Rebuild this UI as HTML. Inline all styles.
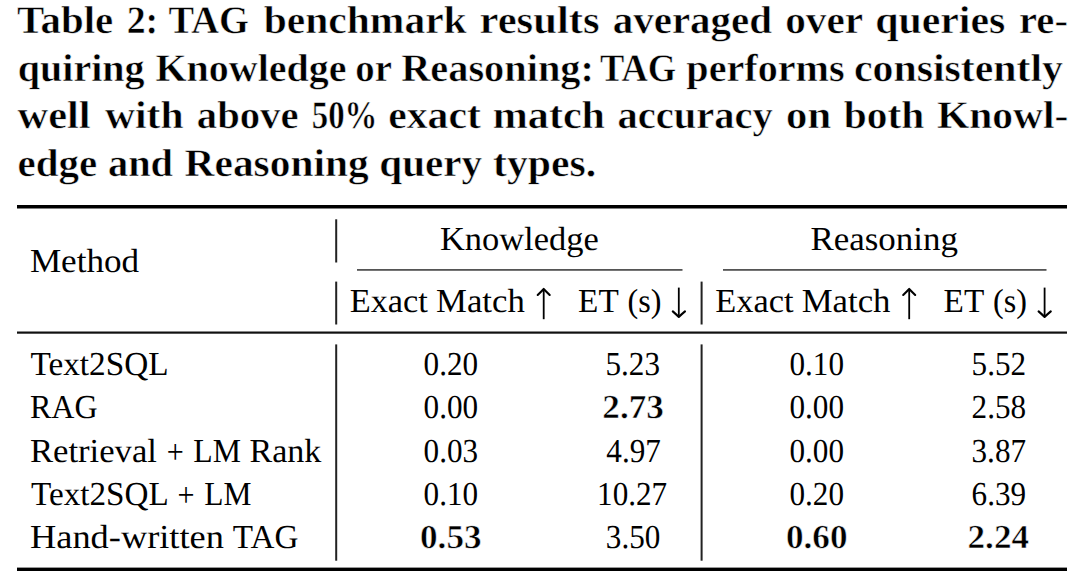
<!DOCTYPE html>
<html><head><meta charset="utf-8"><title>Table 2</title>
<style>html,body{margin:0;padding:0;background:#fff;width:1080px;height:582px;overflow:hidden}svg{display:block}text{font-family:"Liberation Serif", serif;fill:#000;text-rendering:geometricPrecision}</style>
</head><body>
<svg width="1080" height="582" viewBox="0 0 1080 582">
<rect width="1080" height="582" fill="#fff"/>
<text transform="translate(17 33.3) scale(1.0485 1)" font-size="39" font-weight="700" stroke="#fff" stroke-width="0.5">Table</text>
<text transform="translate(126.63 33.3) scale(0.9698 1)" font-size="39" font-weight="700" stroke="#fff" stroke-width="0.5">2:</text>
<text transform="translate(168.6 33.3) scale(0.9838 1)" font-size="39" font-weight="700" stroke="#fff" stroke-width="0.5">TAG</text>
<text transform="translate(263.75 33.3) scale(1.0640 1)" font-size="39" font-weight="700" stroke="#fff" stroke-width="0.5">benchmark</text>
<text transform="translate(479.51 33.3) scale(1.0934 1)" font-size="39" font-weight="700" stroke="#fff" stroke-width="0.5">results</text>
<text transform="translate(612.73 33.3) scale(1.0511 1)" font-size="39" font-weight="700" stroke="#fff" stroke-width="0.5">averaged</text>
<text transform="translate(785.2 33.3) scale(1.0582 1)" font-size="39" font-weight="700" stroke="#fff" stroke-width="0.5">over</text>
<text transform="translate(875.18 33.3) scale(1.0728 1)" font-size="39" font-weight="700" stroke="#fff" stroke-width="0.5">queries</text>
<text transform="translate(1019.05 33.3) scale(1.0419 1)" font-size="39" font-weight="700" stroke="#fff" stroke-width="0.5">re-</text>
<text transform="translate(17.73 80.8) scale(1.0264 1)" font-size="39" font-weight="700" stroke="#fff" stroke-width="0.5">quiring</text>
<text transform="translate(155.5 80.8) scale(1.0255 1)" font-size="39" font-weight="700" stroke="#fff" stroke-width="0.5">Knowledge</text>
<text transform="translate(355.26 80.8) scale(0.9956 1)" font-size="39" font-weight="700" stroke="#fff" stroke-width="0.5">or</text>
<text transform="translate(401.25 80.8) scale(1.0338 1)" font-size="39" font-weight="700" stroke="#fff" stroke-width="0.5">Reasoning:</text>
<text transform="translate(600 80.8) scale(0.9332 1)" font-size="39" font-weight="700" stroke="#fff" stroke-width="0.5">TAG</text>
<text transform="translate(686.3 80.8) scale(1.0297 1)" font-size="39" font-weight="700" stroke="#fff" stroke-width="0.5">performs</text>
<text transform="translate(853.94 80.8) scale(1.0719 1)" font-size="39" font-weight="700" stroke="#fff" stroke-width="0.5">consistently</text>
<text transform="translate(17.57 128.2) scale(1.0883 1)" font-size="39" font-weight="700" stroke="#fff" stroke-width="0.5">well</text>
<text transform="translate(105.07 128.2) scale(1.0653 1)" font-size="39" font-weight="700" stroke="#fff" stroke-width="0.5">with</text>
<text transform="translate(196.79 128.2) scale(1.0432 1)" font-size="39" font-weight="700" stroke="#fff" stroke-width="0.5">above</text>
<text transform="translate(311.76 128.2) scale(0.8405 1)" font-size="39" font-weight="700" stroke="#fff" stroke-width="0.5">50%</text>
<text transform="translate(388.24 128.2) scale(1.0685 1)" font-size="39" font-weight="700" stroke="#fff" stroke-width="0.5">exact</text>
<text transform="translate(492.82 128.2) scale(1.0787 1)" font-size="39" font-weight="700" stroke="#fff" stroke-width="0.5">match</text>
<text transform="translate(617.59 128.2) scale(1.0380 1)" font-size="39" font-weight="700" stroke="#fff" stroke-width="0.5">accuracy</text>
<text transform="translate(786.11 128.2) scale(1.0941 1)" font-size="39" font-weight="700" stroke="#fff" stroke-width="0.5">on</text>
<text transform="translate(843.7 128.2) scale(1.0618 1)" font-size="39" font-weight="700" stroke="#fff" stroke-width="0.5">both</text>
<text transform="translate(937 128.2) scale(1.0637 1)" font-size="39" font-weight="700" stroke="#fff" stroke-width="0.5">Knowl-</text>
<text transform="translate(17.46 175.7) scale(1.0501 1)" font-size="39" font-weight="700" stroke="#fff" stroke-width="0.5">edge</text>
<text transform="translate(108 175.7) scale(1.0348 1)" font-size="39" font-weight="700" stroke="#fff" stroke-width="0.5">and</text>
<text transform="translate(184.6 175.7) scale(1.0618 1)" font-size="39" font-weight="700" stroke="#fff" stroke-width="0.5">Reasoning</text>
<text transform="translate(379.35 175.7) scale(1.0546 1)" font-size="39" font-weight="700" stroke="#fff" stroke-width="0.5">query</text>
<text transform="translate(493 175.7) scale(1.0708 1)" font-size="39" font-weight="700" stroke="#fff" stroke-width="0.5">types.</text>
<text transform="translate(29.88 271.5) scale(1.0483 1)" font-size="33.5" font-weight="400">Method</text>
<text transform="translate(439.89 249.7) scale(1.0286 1)" font-size="33.5" font-weight="400">Knowledge</text>
<text transform="translate(810.38 249.7) scale(1.0427 1)" font-size="33.5" font-weight="400">Reasoning</text>
<text transform="translate(349.69 312.2) scale(1.0258 1)" font-size="33.5" font-weight="400">Exact</text>
<text transform="translate(436.09 312.2) scale(1.0357 1)" font-size="33.5" font-weight="400">Match</text>
<text transform="translate(578.12 312) scale(0.9919 1)" font-size="33.5" font-weight="400">ET</text>
<text transform="translate(627.55 312) scale(0.9593 1)" font-size="33.5" font-weight="400">(s)</text>
<text transform="translate(715.29 312.2) scale(1.0258 1)" font-size="33.5" font-weight="400">Exact</text>
<text transform="translate(801.69 312.2) scale(1.0368 1)" font-size="33.5" font-weight="400">Match</text>
<text transform="translate(943.62 312) scale(0.9919 1)" font-size="33.5" font-weight="400">ET</text>
<text transform="translate(993.05 312) scale(0.9593 1)" font-size="33.5" font-weight="400">(s)</text>
<text transform="translate(30.4 375.1) scale(0.9938 1)" font-size="33.5" font-weight="400">Text2SQL</text>
<text transform="translate(29.96 418.4) scale(0.9575 1)" font-size="33.5" font-weight="400">RAG</text>
<text transform="translate(29.89 461.6) scale(1.0352 1)" font-size="33.5" font-weight="400">Retrieval</text>
<text transform="translate(166.7 463) scale(0.9000 1)" font-size="33.5" font-weight="400">+</text>
<text transform="translate(193.26 461.6) scale(0.9487 1)" font-size="33.5" font-weight="400">LM</text>
<text transform="translate(249.5 461.6) scale(1.0163 1)" font-size="33.5" font-weight="400">Rank</text>
<text transform="translate(31 504.6) scale(0.9902 1)" font-size="33.5" font-weight="400">Text2SQL</text>
<text transform="translate(177.4 506) scale(0.9000 1)" font-size="33.5" font-weight="400">+</text>
<text transform="translate(204.17 504.6) scale(0.9386 1)" font-size="33.5" font-weight="400">LM</text>
<text transform="translate(30.01 547.6) scale(1.0856 1)" font-size="33.5" font-weight="400">Hand-written</text>
<text transform="translate(232.8 547.6) scale(0.9907 1)" font-size="33.5" font-weight="400">TAG</text>
<text transform="translate(423.58 375.1) scale(0.9300 1)" font-size="33.5" font-weight="400">0.20</text>
<text transform="translate(605.45 375.1) scale(0.9300 1)" font-size="33.5" font-weight="400">5.23</text>
<text transform="translate(789.48 375.1) scale(0.9300 1)" font-size="33.5" font-weight="400">0.10</text>
<text transform="translate(971.56 375.1) scale(0.9300 1)" font-size="33.5" font-weight="400">5.52</text>
<text transform="translate(423.58 418.4) scale(0.9300 1)" font-size="33.5" font-weight="400">0.00</text>
<text transform="translate(602.32 418.4) scale(1.0500 1)" font-size="33.5" font-weight="700" stroke="#fff" stroke-width="0.5">2.73</text>
<text transform="translate(789.48 418.4) scale(0.9300 1)" font-size="33.5" font-weight="400">0.00</text>
<text transform="translate(971.57 418.4) scale(0.9300 1)" font-size="33.5" font-weight="400">2.58</text>
<text transform="translate(423.58 461.6) scale(0.9300 1)" font-size="33.5" font-weight="400">0.03</text>
<text transform="translate(606.3 461.6) scale(0.9300 1)" font-size="33.5" font-weight="400">4.97</text>
<text transform="translate(789.48 461.6) scale(0.9300 1)" font-size="33.5" font-weight="400">0.00</text>
<text transform="translate(971.53 461.6) scale(0.9300 1)" font-size="33.5" font-weight="400">3.87</text>
<text transform="translate(423.58 504.6) scale(0.9300 1)" font-size="33.5" font-weight="400">0.10</text>
<text transform="translate(597.07 504.6) scale(0.9300 1)" font-size="33.5" font-weight="400">10.27</text>
<text transform="translate(789.48 504.6) scale(0.9300 1)" font-size="33.5" font-weight="400">0.20</text>
<text transform="translate(971.57 504.6) scale(0.9300 1)" font-size="33.5" font-weight="400">6.39</text>
<text transform="translate(420.03 547.6) scale(1.0500 1)" font-size="33.5" font-weight="700" stroke="#fff" stroke-width="0.5">0.53</text>
<text transform="translate(605.86 547.6) scale(0.9300 1)" font-size="33.5" font-weight="400">3.50</text>
<text transform="translate(785.94 547.6) scale(1.0500 1)" font-size="33.5" font-weight="700" stroke="#fff" stroke-width="0.5">0.60</text>
<text transform="translate(967.51 547.6) scale(1.0500 1)" font-size="33.5" font-weight="700" stroke="#fff" stroke-width="0.5">2.24</text>
<rect x="17" y="205" width="1050" height="3.5" fill="#000"/>
<rect x="17" y="331.5" width="1050" height="2.2" fill="#111"/>
<rect x="17" y="567.6" width="1050" height="3.4" fill="#000"/>
<rect x="357" y="269" width="325.5" height="1.8" fill="#555"/>
<rect x="723" y="269" width="323.5" height="1.8" fill="#555"/>
<rect x="335.2" y="219.3" width="2" height="43.2" fill="#222"/>
<rect x="335.2" y="281.6" width="2" height="42.9" fill="#222"/>
<rect x="335.2" y="344.4" width="2" height="216.3" fill="#222"/>
<rect x="700.6" y="281.6" width="2" height="42.9" fill="#222"/>
<rect x="700.6" y="344.4" width="2" height="216.3" fill="#222"/>
<path d="M543.7 319.2 L543.7 289.8" stroke="#000" stroke-width="1.8" fill="none"/><path d="M537.70 295.00 Q541.50 291.20 543.7 288.90 Q545.90 291.20 549.70 295.00" stroke="#000" stroke-width="2.1" fill="none" stroke-linecap="round" stroke-linejoin="round"/>
<path d="M678.8 287.6 L678.8 316.0" stroke="#000" stroke-width="1.8" fill="none"/><path d="M672.80 311.40 Q676.60 314.80 678.8 316.90 Q681.00 314.80 685.00 311.40" stroke="#000" stroke-width="2.1" fill="none" stroke-linecap="round" stroke-linejoin="round"/>
<path d="M909.2 319.2 L909.2 289.8" stroke="#000" stroke-width="1.8" fill="none"/><path d="M903.20 295.00 Q907.00 291.20 909.2 288.90 Q911.40 291.20 915.20 295.00" stroke="#000" stroke-width="2.1" fill="none" stroke-linecap="round" stroke-linejoin="round"/>
<path d="M1044.6 287.6 L1044.6 316.0" stroke="#000" stroke-width="1.8" fill="none"/><path d="M1038.60 311.40 Q1042.40 314.80 1044.6 316.90 Q1046.80 314.80 1050.80 311.40" stroke="#000" stroke-width="2.1" fill="none" stroke-linecap="round" stroke-linejoin="round"/>
</svg>
</body></html>
